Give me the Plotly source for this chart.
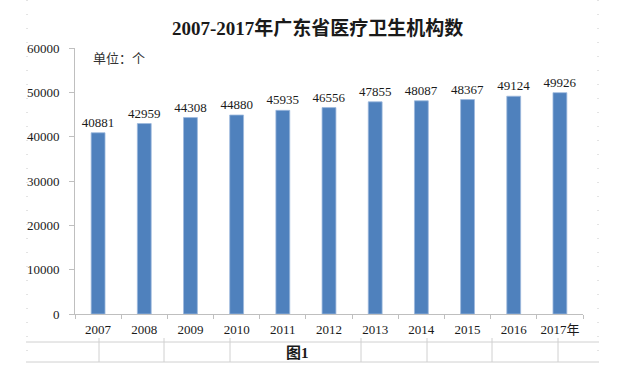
import plotly.graph_objects as go

years = ["2007", "2008", "2009", "2010", "2011", "2012", "2013", "2014", "2015", "2016", "2017年"]
counts = [40881, 42959, 44308, 44880, 45935, 46556, 47855, 48087, 48367, 49124, 49926]
y_ticks = [0, 10000, 20000, 30000, 40000, 50000, 60000]

W, H = 636, 367
L, R, T, B = 75, 583, 48, 314

def fx(px):
    return (px - L) / (R - L)

def fy(py):
    return (B - py) / (B - T)

SERIF = "Liberation Serif, Times New Roman, Noto Sans CJK SC, serif"

fig = go.Figure(go.Bar(
    x=years, y=counts,
    marker=dict(color="#4F81BD", line=dict(color="#9DB9DD", width=0.8)),
    width=0.3,
    text=[str(v) for v in counts],
    textposition="outside",
    constraintext="none",
    textfont=dict(family=SERIF, size=13, color="#1a1a1a"),
    cliponaxis=False,
))

shapes = []
grid = "#D0D0D0"
for py in (342, 362):
    shapes.append(dict(type="line", xref="paper", yref="paper", x0=fx(26), x1=fx(599),
                       y0=fy(py), y1=fy(py), line=dict(color=grid, width=1)))
for px in (99, 164, 230, 361, 427, 492, 558):
    shapes.append(dict(type="line", xref="paper", yref="paper", x0=fx(px), x1=fx(px),
                       y0=fy(338), y1=fy(362), line=dict(color=grid, width=1)))
for px in (27, 598):
    shapes.append(dict(type="line", xref="paper", yref="paper", x0=fx(px), x1=fx(px),
                       y0=fy(0), y1=fy(362), line=dict(color="#C8C8C8", width=1, dash="1px,13px")))

fig.update_layout(
    width=W, height=H,
    margin=dict(l=L, r=W - R, t=T, b=H - B, pad=0),
    paper_bgcolor="white", plot_bgcolor="white",
    showlegend=False,
    shapes=shapes,
    xaxis=dict(
        type="category", showline=True, linecolor="#BFBFBF", linewidth=1,
        ticks="outside", ticklen=4, tickcolor="#BFBFBF", tickson="boundaries",
        tickangle=0, ticklabelstandoff=3,
        showgrid=False, tickfont=dict(family=SERIF, size=13, color="#1a1a1a"),
    ),
    yaxis=dict(
        range=[0, 60000], tickvals=y_ticks, tickformat="d", showline=True, linecolor="#BFBFBF", linewidth=1,
        ticks="outside", ticklen=5, tickcolor="#BFBFBF", showgrid=False, zeroline=False,
        tickfont=dict(family=SERIF, size=13, color="#1a1a1a"), ticklabelstandoff=7,
    ),
    bargap=0.7,
    annotations=[
        dict(text="<b>2007-2017年广东省医疗卫生机构数</b>", xref="paper", yref="paper",
             x=fx(317), y=fy(28), xanchor="center", yanchor="middle", showarrow=False,
             font=dict(family=SERIF, size=19, color="#1a1a1a")),
        dict(text="单位：个", xref="paper", yref="paper", x=fx(91), y=fy(57),
             xanchor="left", yanchor="middle", showarrow=False,
             font=dict(family="Noto Sans CJK SC, sans-serif", size=13, color="#333333")),
        dict(text="<b>图1</b>", xref="paper", yref="paper", x=fx(297), y=fy(353),
             xanchor="center", yanchor="middle", showarrow=False,
             font=dict(family=SERIF, size=15, color="#1a1a1a")),
    ],
)

fig.write_html("out.html", config={"displayModeBar": False},
               post_script="document.body.style.margin='0';")
